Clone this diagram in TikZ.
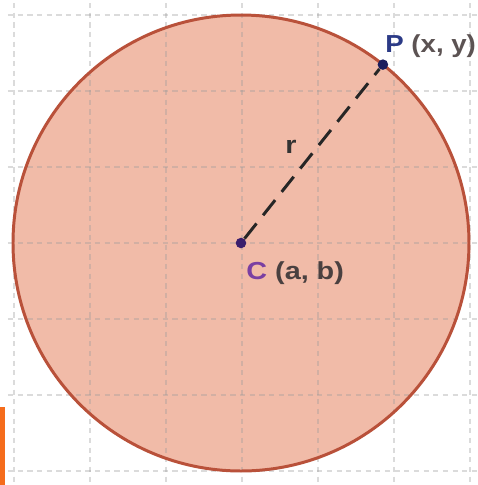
\documentclass[tikz,border=0pt]{standalone}
\usepackage{fontspec}
\setmainfont{Liberation Sans}
\usetikzlibrary{calc}
\definecolor{fillc}{HTML}{F1BBA8}
\definecolor{linec}{HTML}{B9513A}
\definecolor{gridc}{HTML}{9A9A9A}
\definecolor{pnavy}{HTML}{1C1E5E}
\definecolor{ptext}{HTML}{2B3A86}
\definecolor{cdot}{HTML}{3A1E6C}
\definecolor{ctext}{HTML}{7A3FA2}
\definecolor{dgray}{HTML}{4A4040}
\definecolor{orangebar}{HTML}{F56C1C}
\begin{document}
\begin{tikzpicture}[x=0.02cm,y=-0.02cm,
  gridline/.style={gridc,opacity=0.35,line width=0.7pt,dash pattern=on 3pt off 2.5pt},
  lbl/.style={font=\fontsize{14}{16}\selectfont\bfseries,inner sep=0pt,xscale=1.17,transform shape},
  dotc/.style={circle,inner sep=0pt,minimum size=6pt}]
\useasboundingbox (0,0) rectangle (478,485);
\fill[white] (0,0) rectangle (478,485);
\coordinate (C) at (241,243);
\fill[fillc] (C) circle (228);
\foreach \k in {0,...,6}{
  \draw[gridline] ({14+76*\k},3) -- ({14+76*\k},485);
  \draw[gridline] (8,{15+76*\k}) -- (478,{15+76*\k});
}
\draw[linec,line width=1.7pt] (C) circle (228);
\node[dotc,fill=cdot] (c) at (C) {};
\node[dotc,fill=pnavy] (p) at (241+141.9,243-178.4) {};
\draw[black!85,line width=1.7pt,dash pattern=on 11pt off 6pt] (c) -- (p);
\node[lbl,anchor=west,text=ptext,xscale=0.96] (plbl) at (385,46) {P\ \textcolor{dgray!90}{(x, y)}};
\node[lbl,anchor=west,text=ctext] (clbl) at (246,273) {C\ \textcolor{dgray}{(a, b)}};
\node[lbl,text=black!80] (r) at (291,147) {r};
\fill[orangebar] (0,407) rectangle (5,485);
\end{tikzpicture}
\end{document}
